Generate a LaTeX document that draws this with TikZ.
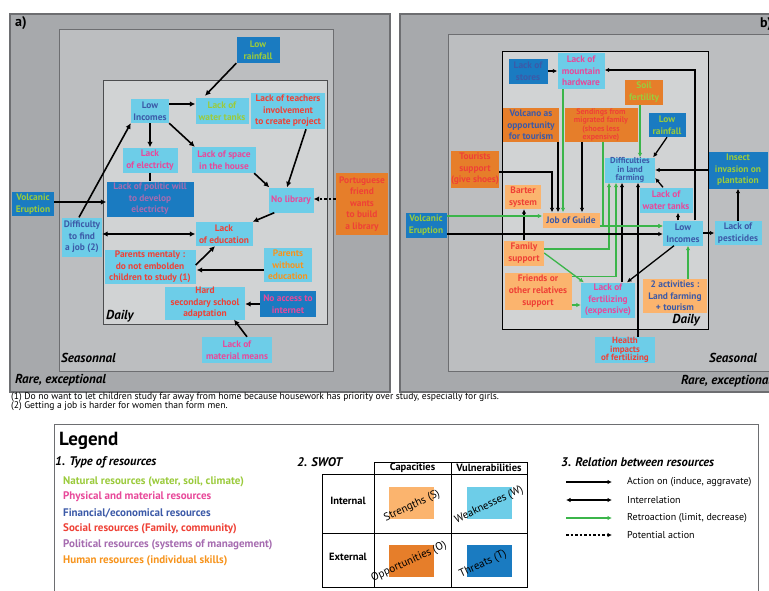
\documentclass[tikz,border=0pt]{standalone}
\usepackage{fontspec}
\setmainfont{PT Sans}
\usetikzlibrary{arrows.meta,calc}
\definecolor{gOut}{HTML}{A7A9AC}
\definecolor{gMid}{HTML}{BCBEC0}
\definecolor{gIn}{HTML}{D1D3D4}
\definecolor{gLine}{HTML}{6D6E71}
\definecolor{lbF}{HTML}{6DCDE8}
\definecolor{dbF}{HTML}{1A7BC1}
\definecolor{loF}{HTML}{FBB46E}
\definecolor{doF}{HTML}{E67E2A}
\definecolor{tGreen}{HTML}{9BCB3C}
\definecolor{tPink}{HTML}{E8499A}
\definecolor{tBlue}{HTML}{3C5AA8}
\definecolor{tRed}{HTML}{EF4136}
\definecolor{tPurple}{HTML}{A66CB0}
\definecolor{tOrange}{HTML}{F7941D}
\definecolor{arGreen}{HTML}{3BB54A}
\begin{document}
\begin{tikzpicture}[x=1pt,y=-1pt,
  bx/.style={inner sep=0pt, align=center, font=\bfseries\fontsize{9.4}{11.6}\selectfont},
  wh/.style 2 args={minimum width=#1pt, minimum height=#2pt},
  bLB/.style={bx, fill=lbF},
  bDB/.style={bx, fill=dbF},
  bLO/.style={bx, fill=loF},
  bDO/.style={bx, fill=doF},
  lvl/.style={inner sep=0pt, font=\bfseries\itshape\fontsize{13}{15}\selectfont},
  arA/.style={line width=1.6pt, -{Latex[length=5.5pt,width=5.5pt]}},
  arB/.style={line width=1.3pt, -{Latex[length=4.5pt,width=4.5pt]}},
  grB/.style={arB, draw=arGreen},
  leg/.style={inner sep=0pt, anchor=west, font=\bfseries\fontsize{11}{12}\selectfont},
  legn/.style={inner sep=0pt, anchor=west, font=\fontsize{10}{11}\selectfont},
  fnt/.style={inner sep=0pt, anchor=west, font=\fontsize{9.6}{10}\selectfont},
  hd/.style={inner sep=0pt, anchor=west, font=\bfseries\itshape\fontsize{12.5}{14}\selectfont},
  tb/.style={inner sep=0pt, font=\bfseries\fontsize{10.5}{12}\selectfont},
  rt/.style={inner sep=0pt, rotate=25, font=\fontsize{11}{12}\selectfont}
]
\useasboundingbox (0,0) rectangle (769,590);
\clip (0,0) rectangle (769,590);
\fill[white] (0,0) rectangle (769,590);

% ---------- panel a frames ----------
\draw[gLine, fill=gOut, line width=1.2pt] (10,14) rectangle (390,392);
\draw[gLine, fill=gMid, line width=1pt] (59,29) rectangle (333,371);
\draw[gLine!70!black, fill=gIn, line width=0.8pt] (103,80) rectangle (327,324);
\node[inner sep=0pt, anchor=west, font=\bfseries\fontsize{14}{16}\selectfont] (la) at (15,23) {a)};
\node[lvl, anchor=west] (ra) at (15,380) {Rare, exceptional};
\node[lvl, anchor=west] (sa) at (61,358) {Seasonnal};
\node[lvl, anchor=west] (da) at (106,316) {Daily};

% ---------- panel a nodes ----------
\node[bDB, wh={43}{26}, text=tGreen] (lra) at (258,50) {Low\\rainfall};
\node[bLB, wh={38}{24}, text=tBlue] (lia) at (150,111) {Low\\Incomes};
\node[bLB, wh={53}{26}, text=tGreen] (wta) at (222,111) {Lack of\\water tanks};
\node[bLB, wh={74}{36}, text=tRed] (lt) at (288,111) {Lack of teachers\\involvement\\to create project};
\node[bLB, wh={55}{25}, text=tPink] (le) at (150,160) {Lack\\of electricty};
\node[bLB, wh={64}{26}, text=tPink] (ls) at (224,160) {Lack of space\\in the house};
\node[bDB, wh={87}{35}, text=tPurple] (pw) at (150,199) {Lack of politic will\\to develop\\electricty};
\node[bLB, wh={45}{25}, text=tPink] (nl) at (291,200) {No library};
\node[bDO, wh={52}{62}, text=tRed] (pf) at (362,204) {Portuguese\\friend\\wants\\to build\\a library};
\node[bDB, wh={42}{24}, text=tGreen] (vea) at (33,204) {Volcanic\\Eruption};
\node[bLB, wh={40}{39}, text=tBlue] (dj) at (82,237) {Difficulty\\to find\\a job (2)};
\node[bLB, wh={57}{24}, text=tRed] (ed) at (224,234) {Lack\\of education};
\node[bLB, wh={91}{34}, text=tRed] (pm) at (150,267) {Parents mentaly :\\do not embolden\\children to study (1)};
\node[bLB, wh={48}{34}, text=tOrange] (pwe) at (288,265) {Parents\\without\\education};
\node[bLB, wh={80}{33}, text=tRed] (hs) at (205,303) {Hard\\secondary school\\adaptation};
\node[bDB, wh={56}{26}, text=tPink] (ni) at (288,304) {No access to\\internet};
\node[bLB, wh={70}{26}, text=tPink] (mm) at (237,350) {Lack of\\material means};

% ---------- panel a connectors ----------
\draw[arA] (lra.south west) -- ($(wta.north)+(-17,-2)$);
\draw[arA] ($(lia.east)+(0,-7)$) -- ($(wta.west)+(0,-7)$);
\draw[arA] (lia.south) -- (le.north);
\draw[arA] (lia.south east) -- ($(ls.north west)+(3,0)$);
\draw[line width=1.6pt] (le.south) -- (pw.north);
\draw[arA] ($(lt.south)+(18,0)$) -- ($(nl.north)+(-4,0)$);
\draw[arA] ($(ls.south east)+(-2,0)$) -- ($(nl.north west)+(1,0)$);
\draw[line width=1.6pt, dash pattern=on 2.5pt off 2pt, -{Latex[length=5.5pt,width=5.5pt]}] ($(pf.west)+(0,-5)$) -- ($(nl.east)+(0,-1)$);
\draw[arA] ($(nl.south west)+(6,0)$) -- (ed.north east);
\draw[arA] ($(dj.north)+(-3,0)$) -- (lia.south west);
\draw[arA] ($(vea.east)+(0,-2)$) -- ($(vea.east -| pw.west)+(0,-2)$);
\draw[line width=1.6pt, {Latex[length=5.5pt,width=5.5pt]}-{Latex[length=5.5pt,width=5.5pt]}] (ed.west -| dj.east) -- (ed.west);
\draw[arA] ($(pm.east)+(0,-2)$) -- ($(ed.south)+(-9,0)$);
\draw[arA] ($(pwe.west)+(0,5)$) -- ($(pm.east)+(1,3)$);
\draw[arA] (ni.west) -- (ni.west -| hs.east);
\draw[arA] ($(mm.north)+(10,0)$) -- ($(hs.south)+(29,0)$);

% ---------- footnotes ----------
\node[fnt] (fn1) at (11,397.5) {(1) Do no want to let children study far away from home because housework has priority over study, especially for girls.};
\node[fnt] (fn2) at (11,406.5) {(2) Getting a job is harder for women than form men.};

% ---------- panel b frames ----------
\draw[gLine, fill=gOut, line width=1.2pt] (400,14) rectangle (800,392);
\draw[gLine, fill=gMid, line width=1pt] (448,34) rectangle (800,371);
\draw[black, fill=gIn, line width=0.8pt] (502,51) rectangle (708,329);
\node[inner sep=0pt, anchor=west, font=\bfseries\fontsize{14}{16}\selectfont] (lb) at (760,24) {b)};
\node[lvl, anchor=west] (rb) at (681,381) {Rare, exceptional};
\node[lvl, anchor=west] (sb) at (709,358) {Seasonal};
\node[lvl, anchor=east] (db) at (700,320) {Daily};

% ---------- panel b nodes ----------
\node[bDB, wh={39}{25}, text=tBlue] (st) at (528,71) {Lack of\\stores};
\node[bLB, wh={47}{36}, text=tPink] (mh) at (581,71) {Lack of\\mountain\\hardware};
\node[bDO, wh={38}{25}, text=tGreen] (sf) at (644,92) {Soil\\fertility};
\node[bDB, wh={37}{24}, text=tGreen] (lrb) at (667,125) {Low\\rainfall};
\node[bDO, wh={56}{34}, text=tBlue] (vo) at (531,125) {Volcano as\\opportunity\\for tourism};
\node[bDO, wh={73}{34}, text=tRed, font=\bfseries\fontsize{8}{8.2}\selectfont] (se) at (601,125) {Sendings from\\migrated family\\(shoes less\\expensive)};
\node[bDO, wh={46}{37}, text=tRed] (ts) at (475,169) {Tourists\\support\\(give shoes)};
\node[bLB, wh={50}{25}, text=tBlue, font=\bfseries\fontsize{8.6}{8.4}\selectfont] (df) at (630,170) {Difficulties\\in land\\farming};
\node[bDB, wh={59}{37}, text=tGreen] (ii) at (738,170) {Insect\\invasion on\\plantation};
\node[bLO, wh={36}{24}, text=tRed] (bs) at (523,197) {Barter\\system};
\node[bLB, wh={53}{25}, text=tPink] (wtb) at (666,200) {Lack of\\water tanks};
\node[bDB, wh={41}{25}, text=tGreen] (veb) at (426,225) {Volcanic\\Eruption};
\node[bLO, wh={57}{15}, text=tBlue] (jg) at (571,220) {Job of Guide};
\node[bLB, wh={40}{25}, text=tBlue] (lib) at (683,233) {Low\\Incomes};
\node[bLB, wh={47}{24}, text=tBlue] (pe) at (738,233) {Lack of\\pesticides};
\node[bLO, wh={40}{25}, text=tRed] (fs) at (524,253) {Family\\support};
\node[bLO, wh={67}{37}, text=tRed] (fr) at (538,291) {Friends or\\other relatives\\support};
\node[bLB, wh={54}{35}, text=tPink] (lf) at (608,300) {Lack of\\fertilizing\\(expensive)};
\node[bLO, wh={64}{34}, text=tBlue] (ta) at (675,296) {2 activities :\\Land farming\\+ tourism};
\node[bLB, wh={60}{26}, text=tRed, font=\bfseries\fontsize{9}{8.6}\selectfont] (hi) at (625,350) {Health\\impacts\\of fertilizing};

% ---------- panel b connectors ----------
\draw[arB] (st.east) -- (mh.west);
\draw[arB] ($(lib.north)+(12,0)$) |- ($(mh.east)+(0,-1)$);
\draw[arB] ($(lib.north)+(-5,0)$) -- ($(wtb.south)+(12,0)$);
\draw[arB] ($(wtb.north)+(-3,0)$) -- ($(df.east)+(0,8)$);
\draw[arB] (lrb.south) -- ($(df.north east)+(-2,0)$);
\draw[arB] (ii.west) -- (ii.west -| df.east);
\draw[grB] ($(sf.south)+(-4,0)$) -- ($(df.north)+(10,0)$);
\draw[arB] (pe.north) -- (ii.south);
\draw[arB] (lib.east) -- (pe.west);
\draw[arB] ($(lib.south)+(-9,0)$) -- ($(lf.north)+(19,0)$);
\draw[grB] ($(ta.north)+(13,0)$) -- ($(lib.south)+(5,0)$);
\draw[arB] ($(hi.north)+(13,0)$) -- ($(df.south)+(8,0)$);
\draw[arB] ($(lf.north)+(14,0)$) -- ($(df.south)+(-8,0)$);
\draw[grB] ($(fs.east)+(0,-4)$) -| ($(df.south)+(-21,0)$);
\draw[grB] ($(fr.north east)+(0,4)$) -| ($(df.south)+(-14,0)$);
\draw[grB] ($(fr.east)+(0,14)$) -- ($(lf.west)+(0,5)$);
\draw[grB] (fs.east) -- ($(lf.north west)+(3,0)$);
\draw[arB] (fs.north) -- (fs.north |- bs.south);
\draw[grB] ($(veb.east)+(0,-9)$) -- ($(jg.west)+(0,-4)$);
\draw[arB] ($(veb.east)+(0,9)$) -- ($(lib.west)+(0,1)$);
\draw[grB] ($(jg.east)+(0,6)$) -- ($(lib.west)+(0,-7)$);
\draw[grB] ($(se.south)+(2,0)$) |- ($(lib.west)+(0,-7)$);
\draw[arB] ($(ts.east)+(0,3)$) -| ($(jg.north)+(-19,0)$);
\draw[arB] ($(vo.south)+(27,0)$) -- ($(jg.north)+(-13,0)$);
\draw[grB] ($(mh.south)+(-18,0)$) -- ($(jg.north)+(-8,0)$);
\draw[arB] ($(se.south)+(-19,0)$) -- ($(jg.north)+(11,0)$);

% ---------- legend ----------
\draw[gLine, line width=0.8pt] (54,424) rectangle (758,600);
\node[inner sep=0pt, anchor=west, font=\bfseries\fontsize{19}{21}\selectfont] (lg) at (59,441) {Legend};
\node[hd] (h1) at (55,462) {1. Type of resources};
\node[leg, text=tGreen] (r1) at (63,482) {Natural resources (water, soil, climate)};
\node[leg, text=tPink] (r2) at (63,497) {Physical and material resources};
\node[leg, text=tBlue] (r3) at (63,513) {Financial/economical resources};
\node[leg, text=tRed] (r4) at (63,529) {Social resources (Family, community)};
\node[leg, text=tPurple] (r5) at (63,545) {Political resources (systems of management)};
\node[leg, text=tOrange] (r6) at (63,561) {Human resources (individual skills)};

\node[hd] (h2) at (297,462) {2. SWOT};
\draw[line width=0.8pt] (374,462) rectangle (527,587);
\draw[line width=0.8pt] (322,474) rectangle (527,587);
\draw[line width=0.8pt] (451,462) -- (451,587);
\draw[line width=0.8pt] (322,533) -- (527,533);
\node[tb] (c1) at (412.5,468) {Capacities};
\node[tb] (c2) at (489,468) {Vulnerabilities};
\node[tb] (r1t) at (348,501) {Internal};
\node[tb] (r2t) at (348,557) {External};
\fill[loF] (389,487) rectangle (434,519);
\fill[lbF] (467,487) rectangle (512,519);
\fill[doF] (389,545) rectangle (434,577);
\fill[dbF] (467,545) rectangle (512,577);
\node[rt] (sS) at (412,506) {Strengths (S)};
\node[rt] (sW) at (489,505) {Weaknesses (W)};
\node[rt] (sO) at (409,562) {Opportunities (O)};
\node[rt] (sT) at (483,564) {Threats (T)};

\node[hd] (h3) at (561,462) {3. Relation between resources};
\coordinate (a1) at (566,482); \coordinate (b1) at (612,482);
\coordinate (a2) at (566,500); \coordinate (b2) at (612,500);
\coordinate (a3) at (566,518); \coordinate (b3) at (612,518);
\coordinate (a4) at (566,535); \coordinate (b4) at (612,535);
\draw[line width=1.5pt, -{Latex[length=4.5pt,width=4.5pt]}] (a1) -- (b1);
\draw[line width=1.5pt, {Latex[length=4.5pt,width=4.5pt]}-{Latex[length=4.5pt,width=4.5pt]}] (a2) -- (b2);
\draw[line width=1.5pt, draw=arGreen, -{Latex[length=4.5pt,width=4.5pt]}] (a3) -- (b3);
\draw[line width=1.5pt, dash pattern=on 2.5pt off 2pt, -{Latex[length=4.5pt,width=4.5pt]}] (a4) -- (b4);
\node[legn] (t1) at (627,482) {Action on (induce, aggravate)};
\node[legn] (t2) at (627,500) {Interrelation};
\node[legn] (t3) at (627,518) {Retroaction (limit, decrease)};
\node[legn] (t4) at (627,535) {Potential action};
\end{tikzpicture}
\end{document}
